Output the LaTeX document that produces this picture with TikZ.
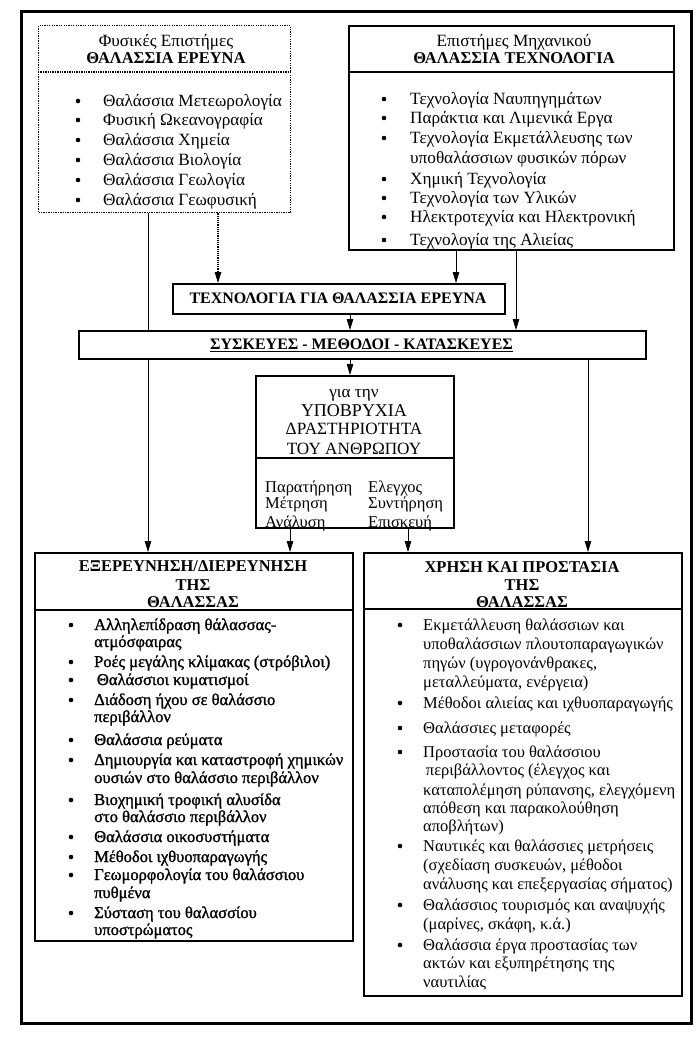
\documentclass[tikz,border=0pt]{standalone}
\usepackage{fontspec}
\setmainfont{Liberation Serif}
\newfontfamily\heavyserif[FakeBold=1.3]{Liberation Serif}
\usetikzlibrary{arrows.meta}
\newcommand\myfs{\fontsize{16.5}{19}\selectfont}
\newcommand\topfs{\fontsize{17.2}{19}\selectfont}
\begin{document}
\begin{tikzpicture}[x=1pt,y=-1pt,
  frame/.style={draw, line width=3.2pt, inner sep=0pt, anchor=north west},
  boxs/.style={draw, line width=1.7pt, fill=white, inner sep=0pt, anchor=north west},
  boxd/.style={draw, line width=1.3pt, dash pattern=on 1.3pt off 1.1pt, inner sep=0pt, anchor=north west},
  divs/.style={line width=1.5pt},
  divd/.style={line width=1.2pt, dash pattern=on 1.3pt off 1.1pt},
  txt/.style={inner sep=0pt, anchor=base west, font=\myfs},
  ttxt/.style={inner sep=0pt, anchor=base west, font=\topfs},
  htxt/.style={inner sep=0pt, anchor=base west, font=\myfs\heavyserif},
  ctr/.style={inner sep=0pt, anchor=base, font=\myfs},
  bctr/.style={inner sep=0pt, anchor=base, font=\myfs\bfseries},
  dot/.style={circle, fill=black, inner sep=0pt, minimum size=4.6pt},
  arr/.style={line width=0.9pt, -{Triangle[length=11pt,width=6.5pt]}},
  line/.style={line width=0.9pt},
  darr/.style={line width=1.1pt, dash pattern=on 1.2pt off 1pt, -{Triangle[length=11pt,width=6.5pt]}}
]
\fill[white] (0,0) rectangle (697,1039);
\useasboundingbox (0,0) rectangle (697,1039);

% outer frame
\node[frame, minimum width=670pt, minimum height=1012pt] (fr) at (20,10) {};

% boxes
\node[boxd, minimum width=252pt, minimum height=187pt] (b1) at (38,25) {};
\node[boxs, minimum width=325pt, minimum height=224pt] (b2) at (348,25) {};
\node[boxs, line width=1.9pt, minimum width=332pt, minimum height=30pt] (tb) at (172,283) {};
\node[boxs, line width=1.9pt, minimum width=567pt, minimum height=28pt] (sb) at (78,330) {};
\node[boxs, minimum width=198pt, minimum height=152pt] (mb) at (255,375) {};
\node[boxs, line width=1.9pt, minimum width=318pt, minimum height=388pt] (lb) at (34,552) {};
\node[boxs, line width=1.9pt, minimum width=318pt, minimum height=443pt] (rb) at (363,552) {};

% dividers
\draw[divd] ([yshift=-47pt]b1.north west) -- ([yshift=-47pt]b1.north east);
\draw[divs] ([yshift=-47pt]b2.north west) -- ([yshift=-47pt]b2.north east);
\draw[divs] ([yshift=-83pt]mb.north west) -- ([yshift=-83pt]mb.north east);
\draw[divs] ([yshift=-58pt]lb.north west) -- ([yshift=-58pt]lb.north east);
\draw[divs] ([yshift=-57pt]rb.north west) -- ([yshift=-57pt]rb.north east);

% connector columns
\coordinate (c1) at (148,0);
\coordinate (c2) at (218,0);
\coordinate (c3) at (456,0);
\coordinate (c4) at (516,0);
\coordinate (c5) at (350,0);
\coordinate (c6) at (290,0);
\coordinate (c7) at (408,0);
\coordinate (c8) at (588,0);

\draw[line] (b1.south -| c1) -- (sb.north -| c1);
\draw[arr] (sb.south -| c1) -- (lb.north -| c1);
\draw[darr] (b1.south -| c2) -- (tb.north -| c2);
\draw[arr] (b2.south -| c3) -- (tb.north -| c3);
\draw[arr] (b2.south -| c4) -- (sb.north -| c4);
\draw[arr] (tb.south -| c5) -- (sb.north -| c5);
\draw[arr] (sb.south -| c5) -- (mb.north -| c5);
\draw[arr] (mb.south -| c6) -- (lb.north -| c6);
\draw[arr] (mb.south -| c7) -- (rb.north -| c7);
\draw[arr] (sb.south -| c8) -- (rb.north -| c8);

% box 1
\node[ctr, font=\topfs] (h1a) at (166,46) {Φυσικές Επιστήμες};
\node[bctr] (h1b) at (166,63) {ΘΑΛΑΣΣΙΑ ΕΡΕΥΝΑ};
\foreach \y/\t [count=\i] in {106/{Θαλάσσια Μετεωρολογία},125/{Φυσική Ωκεανογραφία},145/{Θαλάσσια Χημεία},165/{Θαλάσσια Βιολογία},185/{Θαλάσσια Γεωλογία},205/{Θαλάσσια Γεωφυσική}}{
  \node[dot] (pa\i) at (78,\y-5) {};
  \node[ttxt] (ta\i) at (103,\y) {\t};
}

% box 2
\node[ctr, font=\topfs] (h2a) at (514,46) {Επιστήμες Μηχανικού};
\node[bctr] (h2b) at (514,63) {ΘΑΛΑΣΣΙΑ ΤΕΧΝΟΛΟΓΙΑ};
\foreach \y/\t [count=\i] in {104/{Τεχνολογία Ναυπηγημάτων},123/{Παράκτια και Λιμενικά Εργα},143/{Τεχνολογία Εκμετάλλευσης των},163/{υποθαλάσσιων φυσικών πόρων},184/{Χημική Τεχνολογία},203/{Τεχνολογία των Υλικών},222/{Ηλεκτροτεχνία και Ηλεκτρονική},245/{Τεχνολογία της Αλιείας}}{
  \node[ttxt] (tb\i) at (410,\y) {\t};
}
\foreach \y [count=\i] in {104,123,143,184,203,222,245}{
  \node[dot] (pb\i) at (384,\y-5) {};
}

% technology / devices
\node[bctr, font=\fontsize{16}{19}\selectfont\bfseries] (tt) at (338,303.5) {ΤΕΧΝΟΛΟΓΙΑ ΓΙΑ ΘΑΛΑΣΣΙΑ ΕΡΕΥΝΑ};
\node[bctr, font=\fontsize{16}{19}\selectfont\bfseries] (st) at (361.5,349.5) {\underline{ΣΥΣΚΕΥΕΣ - ΜΕΘΟΔΟΙ - ΚΑΤΑΣΚΕΥΕΣ}};

% middle box
\node[ctr, font=\topfs] (m1) at (354,397) {για την};
\node[ctr, font=\fontsize{18}{19}\selectfont] (m2) at (354,416) {ΥΠΟΒΡΥΧΙΑ};
\node[ctr, font=\topfs] (m3) at (354,434) {ΔΡΑΣΤΗΡΙΟΤΗΤΑ};
\node[ctr, font=\topfs] (m4) at (354,454) {ΤΟΥ ΑΝΘΡΩΠΟΥ};
\foreach \y/\a/\b [count=\i] in {492/Παρατήρηση/Ελεγχος,508/Μέτρηση/Συντήρηση,527/Ανάλυση/Επισκευή}{
  \node[txt] (ml\i) at (265,\y) {\a};
  \node[txt] (mr\i) at (368,\y) {\b};
}

% left bottom box
\node[bctr] (l1) at (193,571) {ΕΞΕΡΕΥΝΗΣΗ/ΔΙΕΡΕΥΝΗΣΗ};
\node[bctr] (l2) at (193,590) {ΤΗΣ};
\node[bctr] (l3) at (193,607.5) {ΘΑΛΑΣΣΑΣ};
\foreach \y/\t [count=\i] in {630/{Αλληλεπίδραση θάλασσας-},647/{ατμόσφαιρας},667/{Ροές μεγάλης κλίμακας (στρόβιλοι)},685/{\,Θαλάσσιοι κυματισμοί},705/{Διάδοση ήχου σε θαλάσσιο},722/{περιβάλλον},745/{Θαλάσσια ρεύματα},765/{Δημιουργία και καταστροφή χημικών},783/{ουσιών στο θαλάσσιο περιβάλλον},805/{Βιοχημική τροφική αλυσίδα},822/{στο θαλάσσιο περιβάλλον},842/{Θαλάσσια οικοσυστήματα},862/{Μέθοδοι ιχθυοπαραγωγής},880/{Γεωμορφολογία του θαλάσσιου},898/{πυθμένα},918/{Σύσταση του θαλασσίου},935/{υποστρώματος}}{
  \node[htxt] (tl\i) at (94,\y) {\t};
}
\foreach \y [count=\i] in {630,667,685,705,745,765,805,842,862,880,918}{
  \node[dot] (pl\i) at (71,\y-5) {};
}

% right bottom box
\node[bctr] (r1) at (522,572) {ΧΡΗΣΗ ΚΑΙ ΠΡΟΣΤΑΣΙΑ};
\node[bctr] (r2) at (522,590) {ΤΗΣ};
\node[bctr] (r3) at (522,607.5) {ΘΑΛΑΣΣΑΣ};
\foreach \y/\t [count=\i] in {630/{Εκμετάλλευση θαλάσσιων και},649/{υποθαλάσσιων πλουτοπαραγωγικών},668/{πηγών (υγρογονάνθρακες,},687/{μεταλλεύματα, ενέργεια)},708/{Μέθοδοι αλιείας και ιχθυοπαραγωγής},733/{Θαλάσσιες μεταφορές},757/{Προστασία του θαλάσσιου},775/{\,περιβάλλοντος (έλεγχος και},795/{καταπολέμηση ρύπανσης, ελεγχόμενη},813/{απόθεση και παρακολούθηση},831/{αποβλήτων)},851/{Ναυτικές και θαλάσσιες μετρήσεις},870/{(σχεδίαση συσκευών, μέθοδοι},889/{ανάλυσης και επεξεργασίας σήματος)},910/{Θαλάσσιος τουρισμός και αναψυχής},929/{(μαρίνες, σκάφη, κ.ά.)},950/{Θαλάσσια έργα προστασίας των},968/{ακτών και εξυπηρέτησης της},987/{ναυτιλίας}}{
  \node[txt] (tr\i) at (423,\y) {\t};
}
\foreach \y [count=\i] in {630,708,733,757,851,910,950}{
  \node[dot] (pr\i) at (400,\y-5) {};
}
\end{tikzpicture}
\end{document}
